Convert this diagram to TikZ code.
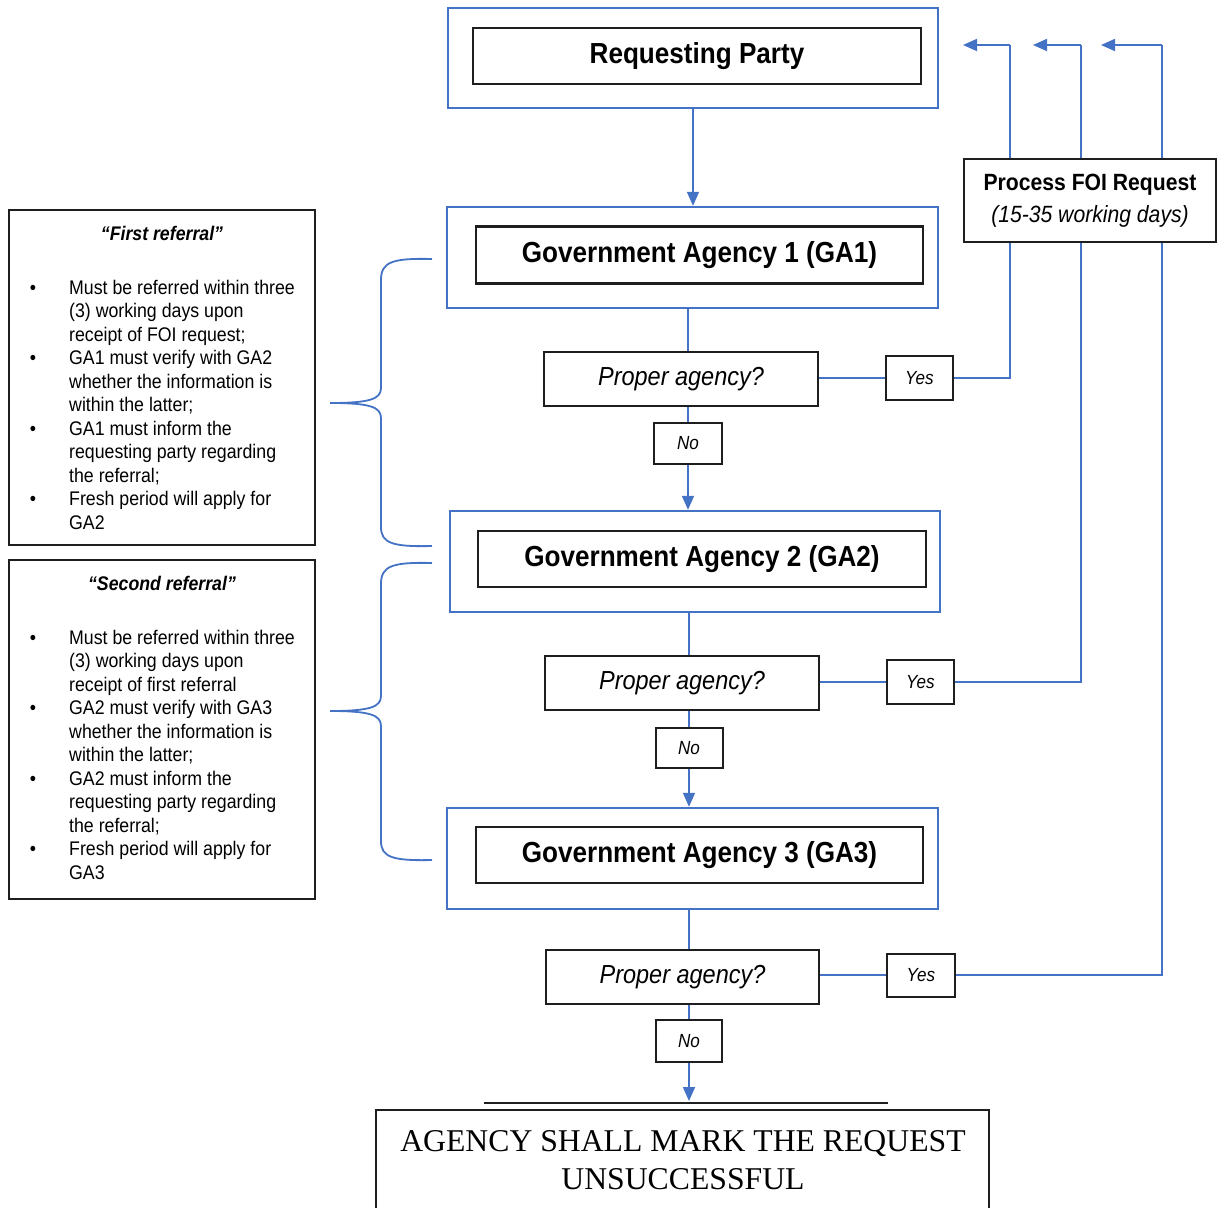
\documentclass[tikz,border=0pt]{standalone}
\usepackage{fontspec}
\setmainfont{Liberation Sans}[FakeStretch=0.9]
\newfontfamily\tms{Liberation Serif}
\usetikzlibrary{arrows.meta}
\definecolor{bl}{HTML}{4472C4}
\definecolor{ink}{HTML}{1E1E1E}
\begin{document}
\begin{tikzpicture}[x=1pt,y=-1pt,
  obox/.style={draw=bl,line width=2.4pt,inner sep=0pt},
  ibox/.style={draw=ink,line width=2.4pt,fill=white,inner sep=0pt,font=\fontsize{29}{34}\selectfont\bfseries},
  qbox/.style={draw=ink,line width=2pt,fill=white,inner sep=0pt,font=\fontsize{26.1}{30}\selectfont\itshape},
  ybox/.style={draw=ink,line width=2pt,fill=white,inner sep=0pt,font=\fontsize{19}{22}\selectfont\itshape},
  lbox/.style={draw=ink,line width=2pt,inner sep=0pt},
  ltitle/.style={inner sep=0pt,font=\fontsize{19.7}{23}\selectfont\bfseries\itshape},
  lbody/.style={inner sep=0pt,anchor=north west,font=\fontsize{19.7}{23.5}\selectfont},
  flow/.style={draw=bl,line width=1.8pt},
  farrow/.style={draw=bl,line width=1.8pt,-{Triangle[width=12pt,length=14pt]}},
  brace/.style={draw=bl,line width=1.8pt},
]
\useasboundingbox (0,0) rectangle (1219,1208);

% Main column
\node[obox,minimum width=490,minimum height=100] (rpo) at (693,58) {};
\node[ibox,minimum width=448,minimum height=56] (rp) at (697,56) {Requesting Party};

\node[obox,minimum width=491,minimum height=101] (g1o) at (692.5,257.5) {};
\node[ibox,minimum width=447,minimum height=57] (g1) at (699.5,255) {Government Agency 1 (GA1)};

\node[obox,minimum width=490,minimum height=101] (g2o) at (695,561.5) {};
\node[ibox,minimum width=448,minimum height=56] (g2) at (702,559) {Government Agency 2 (GA2)};

\node[obox,minimum width=491,minimum height=101] (g3o) at (692.5,858.5) {};
\node[ibox,minimum width=447,minimum height=56] (g3) at (699.5,855) {Government Agency 3 (GA3)};

\node[qbox,minimum width=274,minimum height=54] (p1) at (681,379) {Proper agency?};
\node[qbox,minimum width=274,minimum height=54] (p2) at (682,683) {Proper agency?};
\node[qbox,minimum width=273,minimum height=54] (p3) at (682.5,977) {Proper agency?};

\node[ybox,minimum width=67,minimum height=44] (y1) at (919.5,378) {Yes};
\node[ybox,minimum width=67,minimum height=44] (y2) at (920.5,682) {Yes};
\node[ybox,minimum width=68,minimum height=43] (y3) at (921,975) {Yes};

\node[ybox,minimum width=68,minimum height=41] (n1) at (688,443.5) {No};
\node[ybox,minimum width=67,minimum height=40] (n2) at (689,748) {No};
\node[ybox,minimum width=66,minimum height=42] (n3) at (689,1041) {No};

% vertical flow
\draw[farrow] (rpo.south) -- (g1o.north -| rpo.south);
\draw[flow] (g1o.south -| n1) -- (p1.north -| n1);
\draw[flow] (p1.south -| n1) -- (n1.north);
\draw[farrow] (n1.south) -- (g2o.north -| n1);
\draw[flow] (g2o.south -| n2) -- (p2.north -| n2);
\draw[flow] (p2.south -| n2) -- (n2.north);
\draw[farrow] (n2.south) -- (g3o.north -| n2);
\draw[flow] (g3o.south -| n3) -- (p3.north -| n3);
\draw[flow] (p3.south -| n3) -- (n3.north);
\coordinate (endtip) at (689,1101);
\draw[farrow] (n3.south) -- (endtip);

% yes connections
\draw[flow] (p1.east |- y1) -- (y1.west);
\draw[flow] (p2.east |- y2) -- (y2.west);
\draw[flow] (p3.east |- y3) -- (y3.west);
\coordinate (c1) at (1010,45); \coordinate (t1) at (963,45);
\coordinate (c2) at (1081,45); \coordinate (t2) at (1033,45);
\coordinate (c3) at (1162,45); \coordinate (t3) at (1101,45);
\draw[flow] (y1.east) -| (c1);
\draw[farrow] (c1) -- (t1);
\draw[flow] (y2.east) -| (c2);
\draw[farrow] (c2) -- (t2);
\draw[flow] (y3.east) -| (c3);
\draw[farrow] (c3) -- (t3);

\node[draw=ink,line width=2pt,fill=white,minimum width=252,minimum height=83,inner sep=0pt,align=center,font=\fontsize{23.5}{32}\selectfont] (foi) at (1090,200.5) {\bfseries Process FOI Request\\\itshape (15-35 working days)};

% bottom
\coordinate (hl1) at (484,1103); \coordinate (hl2) at (888,1103);
\draw[ink,line width=1.5pt] (hl1) -- (hl2);
\node[draw=ink,line width=2pt,minimum width=613,minimum height=130,inner sep=0pt] (unb) at (682.5,1175) {};
\node[inner sep=0pt,align=center,font=\tms\fontsize{31.7}{38}\selectfont] (unt) at (683,1160) {AGENCY SHALL MARK THE REQUEST\\UNSUCCESSFUL};

% left boxes
\node[lbox,minimum width=306,minimum height=335] (L1) at (162,377.5) {};
\node[ltitle] (L1t) at (162,233) {“First referral”};
\node[lbody] (L1b) at (28,280) {\begin{minipage}{285pt}\begin{list}{\textbullet}{\leftmargin=41pt\labelwidth=8pt\labelsep=33pt\itemsep=0pt\parsep=0pt\topsep=0pt\partopsep=0pt}
\item Must be referred within three\\(3) working days upon\\receipt of FOI request;
\item GA1 must verify with GA2\\whether the information is\\within the latter;
\item GA1 must inform the\\requesting party regarding\\the referral;
\item Fresh period will apply for\\GA2
\end{list}\end{minipage}};

\node[lbox,minimum width=306,minimum height=339] (L2) at (162,729.5) {};
\node[ltitle] (L2t) at (162,583) {“Second referral”};
\node[lbody] (L2b) at (28,630) {\begin{minipage}{285pt}\begin{list}{\textbullet}{\leftmargin=41pt\labelwidth=8pt\labelsep=33pt\itemsep=0pt\parsep=0pt\topsep=0pt\partopsep=0pt}
\item Must be referred within three\\(3) working days upon\\receipt of first referral
\item GA2 must verify with GA3\\whether the information is\\within the latter;
\item GA2 must inform the\\requesting party regarding\\the referral;
\item Fresh period will apply for\\GA3
\end{list}\end{minipage}};

% braces
\draw[brace] (432,259) .. controls (392,258) and (381,262) .. (381,280) -- (381,388)
  .. controls (381,399) and (370,403) .. (330,403)
  .. controls (370,403) and (381,407) .. (381,418) -- (381,527)
  .. controls (381,543) and (392,547) .. (432,546);
\draw[brace] (432,563) .. controls (392,562) and (381,566) .. (381,584) -- (381,696)
  .. controls (381,707) and (370,711) .. (330,711)
  .. controls (370,711) and (381,715) .. (381,726) -- (381,841)
  .. controls (381,857) and (392,861) .. (432,860);
\end{tikzpicture}
\end{document}
